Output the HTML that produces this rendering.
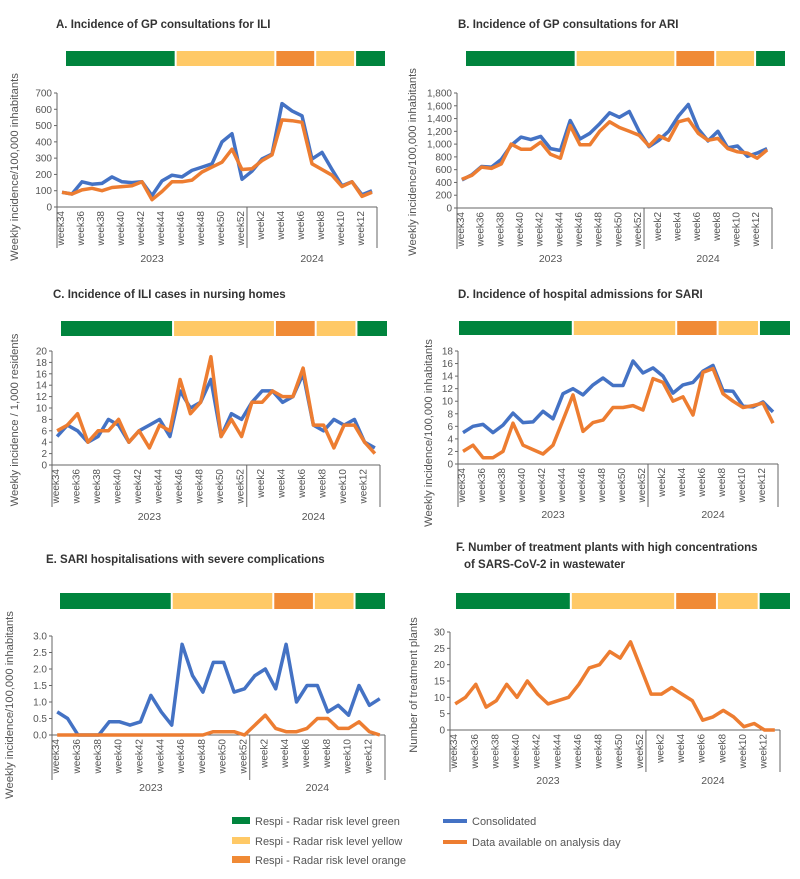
<!DOCTYPE html>
<html><head><meta charset="utf-8"><style>
html,body{margin:0;padding:0;background:#fff}
svg{display:block;font-family:"Liberation Sans",sans-serif}
</style></head><body>
<svg id="chart" width="800" height="879" viewBox="0 0 800 879" xmlns="http://www.w3.org/2000/svg">
<g id="legend">
 <g><rect x="232" y="817" width="18" height="7" fill="#00843d"/><text x="255" y="825" font-size="11" fill="#555">Respi - Radar risk level green</text></g>
 <g><rect x="232" y="837" width="18" height="7" fill="#ffc966"/><text x="255" y="845" font-size="11" fill="#555">Respi - Radar risk level yellow</text></g>
 <g><rect x="232" y="856" width="18" height="7" fill="#f08a35"/><text x="255" y="864" font-size="11" fill="#555">Respi - Radar risk level orange</text></g>
 <g><line x1="443" y1="821" x2="467" y2="821" stroke="#4472c4" stroke-width="4"/><text x="472" y="825" font-size="11" fill="#555">Consolidated</text></g>
 <g><line x1="443" y1="842" x2="467" y2="842" stroke="#ed7d31" stroke-width="4"/><text x="472" y="846" font-size="11" fill="#555">Data available on analysis day</text></g>
</g>
</svg>
<script>
const weeks = ["week34","week35","week36","week37","week38","week39","week40","week41","week42","week43","week44","week45","week46","week47","week48","week49","week50","week51","week52","week1","week2","week3","week4","week5","week6","week7","week8","week9","week10","week11","week12","week13"];
const years = ["2023","2024"];
const yearSplit = 19;
const riskLevels = ["green","yellow","orange","yellow","green"];
const riskWeeks = [11,10,4,4,3];
const iliConsolidated = [90,80,155,140,145,185,155,150,155,70,160,195,185,225,245,265,400,450,170,220,295,325,635,590,560,295,335,230,130,155,75,100];
const iliAnalysisDay = [90,80,105,115,100,120,125,130,155,45,95,155,155,165,215,245,275,355,230,235,285,320,535,530,520,265,230,195,125,155,65,90];
const ariConsolidated = [440,520,650,640,760,980,1110,1070,1120,930,900,1370,1080,1170,1320,1490,1420,1510,1200,960,1060,1200,1440,1620,1240,1050,1200,940,970,810,860,930];
const ariAnalysisDay = [450,510,640,620,690,1000,920,920,1030,840,780,1290,990,990,1200,1350,1260,1200,1140,970,1130,1060,1350,1390,1170,1060,1090,930,880,860,780,910];
const nursingConsolidated = [5,7,6,4,5,8,7,4,6,7,8,5,13,10,11,15,5,9,8,11,13,13,11,12,16,7,6,8,7,8,4,3];
const nursingAnalysisDay = [6,7,9,4,6,6,8,4,6,3,7,6,15,9,11,19,5,8,5,11,11,13,12,12,17,7,7,3,7,7,4,2];
const sariConsolidated = [5,6,6.3,5,6.2,8.1,6.6,6.7,8.4,7.2,11.2,12,11,12.6,13.7,12.5,12.5,16.4,14.5,15.3,14,11.3,12.6,13,14.8,15.7,11.7,11.6,9.2,9.1,9.9,8.3];
const sariAnalysisDay = [2,3,1,1,2,6.5,3,2.3,1.6,3,7,11,5.2,6.6,7,9,9,9.3,8.6,13.6,13,10,10.7,7.8,14.6,15.2,11.2,10,9,9.3,9.7,6.5];
const severeConsolidated = [0.7,0.5,0,0,0,0.4,0.4,0.3,0.4,1.2,0.7,0.3,2.75,1.8,1.3,2.2,2.2,1.3,1.4,1.8,2.0,1.4,2.75,1.0,1.5,1.5,0.7,0.9,0.6,1.5,0.9,1.1];
const severeAnalysisDay = [0,0,0,0,0,0,0,0,0,0,0,0,0,0,0,0.1,0.1,0.1,0,0.3,0.6,0.2,0.1,0.1,0.2,0.5,0.5,0.2,0.2,0.4,0.1,0];
const plantsAnalysisDay = [8,10,14,7,9,14,10,15,11,8,9,10,14,19,20,24,22,27,19,11,11,13,11,9,3,4,6,4,1,2,0,0];

const NS="http://www.w3.org/2000/svg";
const svg=document.getElementById('chart');
const riskColor={green:"#00843d",yellow:"#ffc966",orange:"#f08a35"};
function mk(tag,attrs,parent){const e=document.createElementNS(NS,tag);for(const k in attrs)e.setAttribute(k,attrs[k]);parent.appendChild(e);return e;}

const panels=[
 {id:"a",title:["A. Incidence of GP consultations for ILI"],tx:56,ty:28,bar:[66,385,51,66],x0:57,x1:377,yb:207,yt:93,max:700,step:100,dec:0,comma:false,cb:248,yy:262,ytl:"Weekly incidence/100,000 inhabitants",ytx:18,ytc:167,series:[iliConsolidated,iliAnalysisDay]},
 {id:"b",title:["B. Incidence of GP consultations for ARI"],tx:458,ty:28,bar:[466,785,51,66],x0:457,x1:772,yb:208,yt:93,max:1800,step:200,dec:0,comma:true,cb:249,yy:262,ytl:"Weekly incidence/100,000 inhabitants",ytx:416,ytc:162,series:[ariConsolidated,ariAnalysisDay]},
 {id:"c",title:["C. Incidence of ILI cases in nursing homes"],tx:53,ty:298,bar:[61,387,321,336],x0:52,x1:380,yb:465,yt:351,max:20,step:2,dec:0,comma:false,cb:507,yy:520,ytl:"Weekly incidence / 1,000 residents",ytx:18,ytc:420,series:[nursingConsolidated,nursingAnalysisDay]},
 {id:"d",title:["D. Incidence of hospital admissions for SARI"],tx:458,ty:298,bar:[459,790,321,335],x0:458,x1:778,yb:464,yt:351,max:18,step:2,dec:0,comma:false,cb:507,yy:518,ytl:"Weekly incidence/100,000 inhabitants",ytx:432,ytc:433,series:[sariConsolidated,sariAnalysisDay]},
 {id:"e",title:["E. SARI hospitalisations with severe complications"],tx:46,ty:563,bar:[60,385,593,609],x0:52,x1:385,yb:735,yt:636,max:3,step:0.5,dec:1,comma:false,cb:780,yy:791,ytl:"Weekly incidence/100,000 inhabitants",ytx:13,ytc:705,series:[severeConsolidated,severeAnalysisDay]},
 {id:"f",title:["F. Number of treatment plants with high concentrations","of SARS-CoV-2 in wastewater"],tx:456,ty:551,bar:[456,790,593,609],x0:450,x1:780,yb:730,yt:632,max:30,step:5,dec:0,comma:false,cb:772,yy:784,ytl:"Number of treatment plants",ytx:417,ytc:685,series:[null,plantsAnalysisDay]}
];
const seriesColors=["#4472c4","#ed7d31"];
const seriesNames=["consolidated-line","analysis-day-line"];

panels.forEach(p=>{
 const g=mk('g',{},svg);
 
 
 p.title.forEach((t,i)=>{
  const te=mk('text',{x:p.tx+(i?8:0),y:p.ty+i*17,'font-size':11.5,'font-weight':'bold',fill:'#333'},g);
  te.textContent=t;
  
  
 });
 const total=riskWeeks.reduce((a,b)=>a+b,0);
 let cx=p.bar[0];const bw=p.bar[1]-p.bar[0];
 riskLevels.forEach((lv,i)=>{
  const w=bw*riskWeeks[i]/total;
  const r=mk('rect',{x:cx+(i?1:0),y:p.bar[2],width:w-(i?1:0)-(i<riskLevels.length-1?1:0),height:p.bar[3]-p.bar[2],fill:riskColor[lv]},g);
  
  
  cx+=w;
 });
 const n=weeks.length;const band=(p.x1-p.x0)/n;
 const xs=i=>p.x0+band*(i+0.5);
 const ys=v=>p.yb-(v/p.max)*(p.yb-p.yt);
 const ax=mk('line',{x1:p.x0,y1:p.yt,x2:p.x0,y2:p.cb,stroke:'#666','stroke-width':1},g);
 
 
 const xa=mk('line',{x1:p.x0,y1:p.yb,x2:p.x1,y2:p.yb,stroke:'#666','stroke-width':1},g);
 
 
 mk('line',{x1:p.x1,y1:p.yb,x2:p.x1,y2:p.cb,stroke:'#666','stroke-width':1},g);
 const sx=p.x0+band*yearSplit;
 mk('line',{x1:sx,y1:p.yb,x2:sx,y2:p.cb,stroke:'#666','stroke-width':1},g);
 for(let v=0;v<=p.max+1e-9;v+=p.step){
  const y=ys(v);
  mk('line',{x1:p.x0-3,y1:y,x2:p.x0,y2:y,stroke:'#666'},g);
  let s=p.dec?v.toFixed(p.dec):String(Math.round(v));
  if(p.comma)s=Number(s).toLocaleString('en-US');
  const t=mk('text',{x:p.x0-5,y:y+3.5,'font-size':10,fill:'#555','text-anchor':'end'},g);
  t.textContent=s;
  
  
 }
 weeks.forEach((w,i)=>{
  if(i%2)return;
  const x=xs(i);
  const t=mk('text',{x:0,y:0,'font-size':10,fill:'#555','text-anchor':'end',transform:`translate(${x+2},${p.yb+4}) rotate(-90)`},g);
  t.textContent=w;
  
  
 });
 years.forEach((yr,i)=>{
  const a=i?sx:p.x0,b=i?p.x1:sx;
  const t=mk('text',{x:(a+b)/2,y:p.yy,'font-size':10.5,fill:'#555','text-anchor':'middle'},g);
  t.textContent=yr;
  
  
 });
 const yt=mk('text',{x:0,y:0,'font-size':11.2,fill:'#555','text-anchor':'middle',transform:`translate(${p.ytx},${p.ytc}) rotate(-90)`},g);
 yt.textContent=p.ytl;
 
 
 p.series.forEach((arr,si)=>{
  if(!arr)return;
  const d=arr.map((v,i)=>(i?'L':'M')+xs(i).toFixed(1)+' '+ys(v).toFixed(1)).join(' ');
  const pth=mk('path',{d:d,fill:'none',stroke:seriesColors[si],'stroke-width':3.5,'stroke-linejoin':'round'},g);
  
  
 });
});
</script>
</body></html>
